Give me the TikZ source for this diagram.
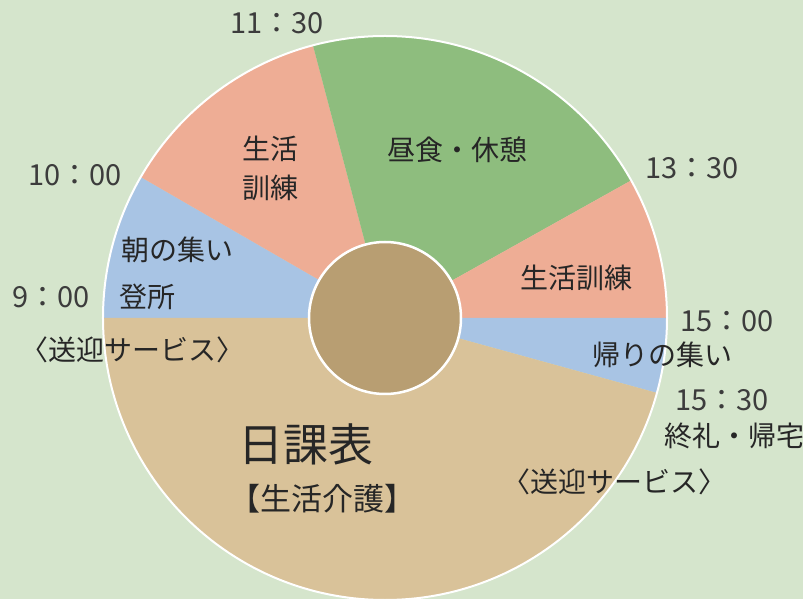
\documentclass[tikz,border=0pt]{standalone}
\usepackage{fontspec}
\setmainfont{Noto Sans CJK JP}
\definecolor{bgcol}{HTML}{D5E5CC}
\definecolor{pinkcol}{HTML}{EEAD95}
\definecolor{greencol}{HTML}{8EBD7E}
\definecolor{bluecol}{HTML}{A8C4E4}
\definecolor{tancol}{HTML}{D9C299}
\definecolor{corecol}{HTML}{B89E72}
\definecolor{ink}{HTML}{262626}
\tikzset{
  lbl/.style={font={\fontsize{28}{32}\selectfont}, text=ink, inner sep=0pt},
  tm/.style={font={\fontsize{29}{32}\selectfont}, text=ink!90, inner sep=0pt},
}

\begin{document}
\begin{tikzpicture}[x=1pt,y=1pt]
        \fill[bgcol] (-385,318) rectangle (418,-281);
        \useasboundingbox (-385,318) rectangle (418,-281);
        \clip (-385,318) rectangle (418,-281);
        % slices
        \fill[bluecol] (0,0) -- (180:282) arc[start angle=180, end angle=150, radius=282] -- cycle;
        \fill[pinkcol] (0,0) -- (150:282) arc[start angle=150, end angle=104.8, radius=282] -- cycle;
        \fill[greencol] (0,0) -- (104.8:282) arc[start angle=104.8, end angle=29.2, radius=282] -- cycle;
        \fill[pinkcol] (0,0) -- (29.2:282) arc[start angle=29.2, end angle=0, radius=282] -- cycle;
        \fill[bluecol] (0,0) -- (0:282) arc[start angle=0, end angle=-15.4, radius=282] -- cycle;
        \fill[tancol] (0,0) -- (-15.4:282) arc[start angle=-15.4, end angle=-180, radius=282] -- cycle;
        \draw[white, line width=2pt] (0,0) circle[radius=282];
        \filldraw[fill=corecol, draw=white, line width=2.5pt] (0,0) circle[radius=76];
        % times
        \node[tm] (T1130) at (-108,295) {11：30};
        \node[tm] (T1000) at (-310,143) {10：00};
        \node[tm] (T0900) at (-334,21) {9：00};
        \node[tm] (T1330) at (307,150) {13：30};
        \node[tm] (T1500) at (342,-3) {15：00};
        \node[tm] (T1530) at (337,-82) {15：30};
        % activities
        \node[lbl] (Asa) at (-207,68) {朝の集い};
        \node[lbl] (Tosho) at (-237,21) {登所};
        \node[lbl] (SogeiL) at (-252,-32) {〈送迎サービス〉};
        \node[lbl] (KunrenA) at (-114,169) {生活};
        \node[lbl] (KunrenA2) at (-114,130) {訓練};
        \node[lbl] (Lunch) at (72,168) {昼食・休憩};
        \node[lbl] (KunrenB) at (191,40) {生活訓練};
        \node[lbl] (Kaeri) at (277,-37) {帰りの集い};
        \node[lbl] (Shurei) at (349,-118) {終礼・帰宅};
        \node[lbl] (SogeiR) at (229,-164) {〈送迎サービス〉};
        \node[lbl, font={\fontsize{45}{50}\selectfont}] (Title) at (-79,-126) {日課表};
        \node[lbl, font={\fontsize{31}{34}\selectfont}] (Sub) at (-62,-181) {【生活介護】};
    \end{tikzpicture}
\end{document}
